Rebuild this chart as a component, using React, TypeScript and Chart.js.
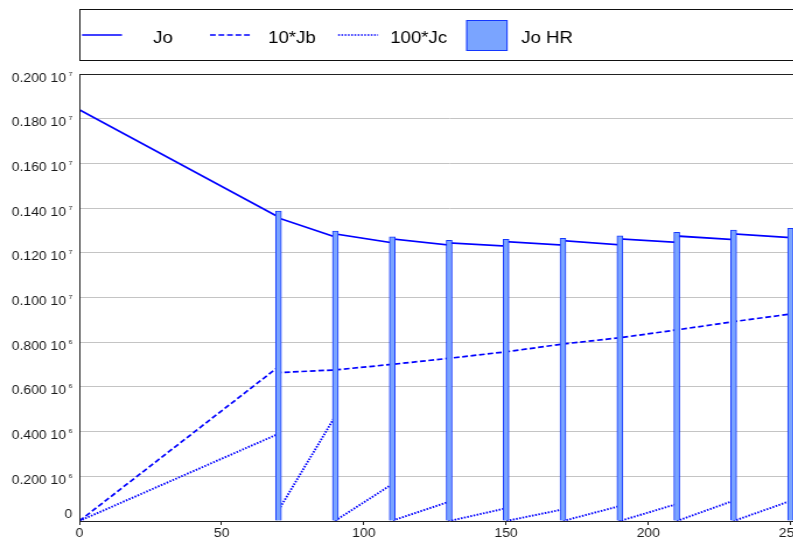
import React, { useEffect, useRef } from "react";
import { Chart, registerables } from "chart.js";

Chart.register(...registerables);

// ---- data ----
const hrTimes = [70, 90, 110, 130, 150, 170, 190, 210, 230, 250];
const joHR = [1.387e6, 1.297e6, 1.271e6, 1.256e6, 1.26e6, 1.265e6, 1.276e6, 1.292e6, 1.302e6, 1.31e6];

const joX = [0, 70, 70, 90, 90, 110, 110, 130, 130, 150, 150, 170, 170, 190, 190, 210, 210, 230, 230, 250];
const joY = [1.84e6, 1.36e6, 1.356e6, 1.271e6, 1.284e6, 1.245e6, 1.262e6, 1.235e6, 1.244e6, 1.23e6, 1.25e6, 1.235e6, 1.254e6, 1.236e6, 1.262e6, 1.247e6, 1.275e6, 1.259e6, 1.285e6, 1.268e6];

const jbX = [0, 70, 70, 90, 110, 130, 150, 170, 190, 210, 230, 250];
const jbY = [0, 0.69e6, 0.664e6, 0.676e6, 0.701e6, 0.728e6, 0.757e6, 0.792e6, 0.82e6, 0.855e6, 0.892e6, 0.926e6];

const jcX = [0, 70, 70, 90, 90, 110, 110, 130, 130, 150, 150, 170, 170, 190, 190, 210, 210, 230, 230, 250];
const jcY = [0, 0.39e6, 0.048e6, 0.47e6, 0.002e6, 0.165e6, 0.002e6, 0.086e6, 0, 0.057e6, 0, 0.052e6, 0, 0.067e6, 0, 0.076e6, 0, 0.091e6, 0, 0.09e6];

const yTickValues = [0, 2e5, 4e5, 6e5, 8e5, 1e6, 1.2e6, 1.4e6, 1.6e6, 1.8e6, 2e6];
const yTickMantissas = ["0", "0.200", "0.400", "0.600", "0.800", "0.100", "0.120", "0.140", "0.160", "0.180", "0.200"];
const yTickExponents = ["", "6", "6", "6", "6", "7", "7", "7", "7", "7", "7"];

const seriesLabels = ["Jo", "10*Jb", "100*Jc", "Jo HR"];

// ---- styles ----
const FONT = "'Liberation Sans', Arial, Helvetica, sans-serif";
const STRETCH = 793 / 680;
const CW = 702;
const CH = 538;
const BLUE = "#0000ff";
const BAR_FILL = "#7aa4ff";
const BAR_BORDER = "#1437ff";
const DASH = [4.9, 2.4];
const DOT = [1.5, 1.3];

const pts = (xs: number[], ys: number[]) => xs.map((x, i) => ({ x, y: ys[i] }));

const decorPlugin = {
  id: "decor",
  afterDraw(chart: any) {
    const ctx = chart.ctx as CanvasRenderingContext2D;
    const { left, right, top, bottom } = chart.chartArea;
    const yScale = chart.scales.y;
    ctx.save();
    // frame
    ctx.strokeStyle = "#222";
    ctx.lineWidth = 1;
    ctx.beginPath();
    ctx.moveTo(left + 0.5, bottom);
    ctx.lineTo(left + 0.5, top + 0.5);
    ctx.lineTo(right - 0.5, top + 0.5);
    ctx.lineTo(right - 0.5, bottom);
    ctx.stroke();

    // y tick labels with exponents
    ctx.fillStyle = "#1a1a1a";
    ctx.textBaseline = "alphabetic";
    ctx.textAlign = "right";
    yTickValues.forEach((v, i) => {
      const py = yScale.getPixelForValue(v);
      const exp = yTickExponents[i];
      const endX = left - 6;
      if (exp) {
        ctx.font = `6px ${FONT}`;
        ctx.fillText(exp, endX, py + 1.5);
        const ew = ctx.measureText(exp).width;
        ctx.font = `12px ${FONT}`;
        ctx.fillText(yTickMantissas[i] + " 10", endX - ew - 2, py + 7.5);
      } else {
        ctx.font = `12px ${FONT}`;
        ctx.fillText(yTickMantissas[i], endX, py - 3.5);
      }
    });

    // legend
    const boxL = left + 0.5;
    const boxT = 9.5;
    const boxB = 60.5;
    ctx.strokeStyle = "#111";
    ctx.lineWidth = 1;
    ctx.strokeRect(boxL, boxT, CW - 1 - boxL, boxB - boxT);
    const midY = 35;
    const items = [
      { kind: "line", dash: [] as number[], w: 1.6, sx: 70.3, tx: 131.2 },
      { kind: "line", dash: DASH, w: 1.6, sx: 180, tx: 229.8 },
      { kind: "line", dash: DOT, w: 1.6, sx: 289.8, tx: 334.4 },
      { kind: "box", dash: [] as number[], w: 1, sx: 399.6, tx: 446.7 },
    ];
    ctx.textAlign = "left";
    ctx.font = `16px ${FONT}`;
    items.forEach((it, i) => {
      if (it.kind === "line") {
        ctx.strokeStyle = BLUE;
        ctx.lineWidth = it.w;
        ctx.setLineDash(it.dash);
        ctx.beginPath();
        ctx.moveTo(it.sx, midY);
        ctx.lineTo(it.sx + 34.3, midY);
        ctx.stroke();
        ctx.setLineDash([]);
      } else {
        ctx.fillStyle = BAR_FILL;
        ctx.fillRect(it.sx, 20, 35.5, 31);
        ctx.strokeStyle = BAR_BORDER;
        ctx.lineWidth = 1;
        ctx.strokeRect(it.sx + 0.5, 20.5, 34.5, 30);
      }
      ctx.fillStyle = "#000";
      ctx.fillText(seriesLabels[i], it.tx, 43.3);
    });
    ctx.restore();
  },
};

export default function App() {
  const ref = useRef<HTMLCanvasElement>(null);

  useEffect(() => {
    const canvas = ref.current;
    if (!canvas) return;
    const chart = new Chart(canvas, {
      type: "line",
      data: {
        datasets: [
          {
            type: "bar",
            label: seriesLabels[3],
            data: pts(hrTimes, joHR),
            backgroundColor: BAR_FILL,
            borderColor: BAR_BORDER,
            borderWidth: 1,
            barThickness: 5,
            order: 0,
          } as any,
          {
            type: "line",
            label: seriesLabels[0],
            data: pts(joX, joY),
            borderColor: BLUE,
            borderWidth: 1.7,
            pointRadius: 0,
            tension: 0,
            order: 1,
          },
          {
            type: "line",
            label: seriesLabels[1],
            data: pts(jbX, jbY),
            borderColor: BLUE,
            borderWidth: 1.7,
            borderDash: DASH,
            pointRadius: 0,
            tension: 0,
            order: 2,
          },
          {
            type: "line",
            label: seriesLabels[2],
            data: pts(jcX, jcY),
            borderColor: BLUE,
            borderWidth: 1.9,
            borderDash: DOT,
            pointRadius: 0,
            tension: 0,
            order: 3,
          },
        ],
      },
      options: {
        animation: false,
        responsive: false,
        devicePixelRatio: 1,
        events: [],
        layout: { padding: { top: 74, left: 0, right: 0, bottom: 0 } },
        plugins: { legend: { display: false }, tooltip: { enabled: false } },
        scales: {
          x: {
            type: "linear",
            min: 0,
            max: 260,
            offset: false,
            ticks: {
              stepSize: 50,
              includeBounds: false,
              font: { size: 12, family: FONT },
              color: "#1a1a1a",
              padding: 1,
              maxRotation: 0,
              autoSkip: false,
            },
            grid: { offset: false, drawOnChartArea: false, drawTicks: true, tickLength: 4, color: "#222" },
            border: { color: "#222", width: 1 },
            afterFit(s: any) {
              s.height = 17;
            },
          },
          y: {
            type: "linear",
            min: 0,
            max: 2e6,
            ticks: { stepSize: 2e5, display: false },
            grid: { color: "#c4c4c4", drawTicks: false, lineWidth: 1 },
            border: { color: "#222", width: 1 },
            afterFit(s: any) {
              s.width = 68;
            },
          },
        },
      } as any,
      plugins: [decorPlugin],
    });
    return () => chart.destroy();
  }, []);

  return (
    <div
      style={{
        position: "absolute",
        left: 0,
        top: 0,
        width: 793,
        height: 538,
        overflow: "hidden",
        background: "#fff",
      }}
    >
      <canvas
        ref={ref}
        width={CW}
        height={CH}
        style={{ width: `${CW * STRETCH}px`, height: `${CH}px`, display: "block" }}
      />
    </div>
  );
}
